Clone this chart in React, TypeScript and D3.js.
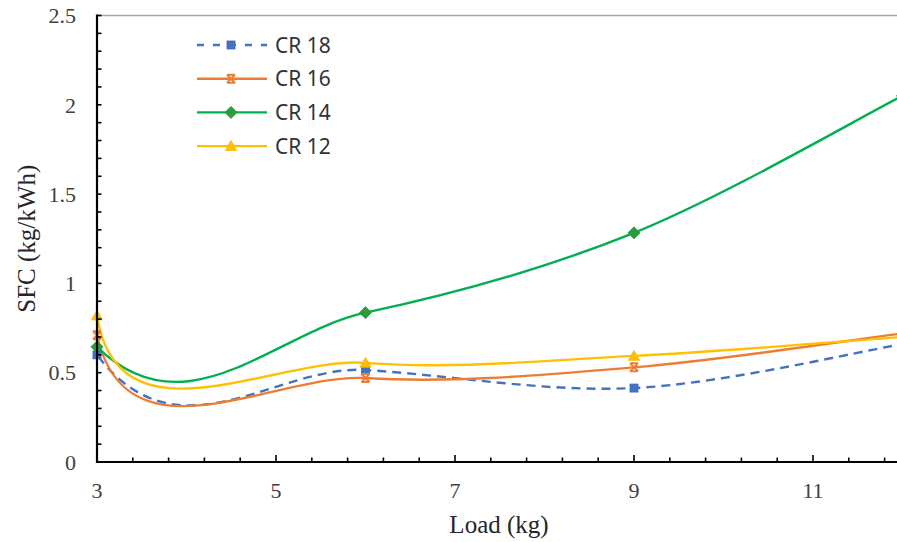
import React from "react";
import * as d3 from "d3";

// ---- data ----
// the first load (0 kg) lies left of the axis minimum and is clipped; it only shapes the smoothed curves
const loads = [0, 3, 6, 9, 12];
const cr18 = [4.5, 0.6, 0.515, 0.414, 0.66];
const cr16 = [14, 0.71, 0.47, 0.53, 0.72];
const cr14 = [3.8, 0.645, 0.836, 1.283, 2.05];
const cr12 = [20, 0.82, 0.555, 0.594, 0.7];
const seriesNames = ["CR 18", "CR 16", "CR 14", "CR 12"];
const xTickLabels = [3, 5, 7, 9, 11];
const yTickLabels = [0, 0.5, 1, 1.5, 2, 2.5];

const W = 897;
const H = 542;
const left = 97;
const top = 15.5;
const bottom = 462;
const right = 902.5;

const x = d3.scaleLinear().domain([3, 12]).range([left, right]);
const y = d3.scaleLinear().domain([0, 2.5]).range([bottom, top]);

type P = [number, number];

// Excel-like smoothed Bezier through points (pixel space)
function smoothPath(pts: P[]): string {
  const p = d3.path();
  if (!pts.length) return "";
  p.moveTo(pts[0][0], pts[0][1]);
  const dist = (a: P, b: P) => Math.hypot(b[0] - a[0], b[1] - a[1]);
  for (let i = 0; i < pts.length - 1; i++) {
    const p0 = pts[i - 1] ?? pts[i];
    const p1 = pts[i];
    const p2 = pts[i + 1];
    const p3 = pts[i + 2] ?? pts[i + 1];
    const d12 = dist(p1, p2);
    const d02 = dist(p0, p2);
    const d13 = dist(p1, p3);
    const f1 = d02 === 0 ? 0 : d02 / 6 < d12 / 2 ? 1 / 6 : d12 / (2 * d02);
    const f2 = d13 === 0 ? 0 : d13 / 6 < d12 / 2 ? 1 / 6 : d12 / (2 * d13);
    const c1: P = [p1[0] + f1 * (p2[0] - p0[0]), p1[1] + f1 * (p2[1] - p0[1])];
    const c2: P = [p2[0] - f2 * (p3[0] - p1[0]), p2[1] - f2 * (p3[1] - p1[1])];
    p.bezierCurveTo(c1[0], c1[1], c2[0], c2[1], p2[0], p2[1]);
  }
  return p.toString();
}

const colors = ["#4472C4", "#ED7D31", "#00B050", "#FFC000"];
const seriesValues = [cr18, cr16, cr14, cr12];

function Marker({ kind, cx, cy }: { kind: number; cx: number; cy: number }) {
  if (kind === 0) {
    return <rect x={cx - 4} y={cy - 4} width={8} height={8} fill="#4472C4" stroke="#3B65B5" strokeWidth={0.8} />;
  }
  if (kind === 1) {
    const s = 4;
    return (
      <path
        d={`M${cx - s},${cy - s}L${cx + s},${cy + s}M${cx + s},${cy - s}L${cx - s},${cy + s}M${cx - s},${cy - s}L${cx + s},${cy - s}M${cx - s},${cy + s}L${cx + s},${cy + s}`}
        stroke="#ED7D31"
        strokeWidth={2}
        fill="none"
      />
    );
  }
  if (kind === 2) {
    const s = 6;
    return (
      <path
        d={`M${cx},${cy - s}L${cx + s},${cy}L${cx},${cy + s}L${cx - s},${cy}Z`}
        fill="#2F9A3A"
        stroke="#1FA54A"
        strokeWidth={1}
      />
    );
  }
  const s = 5.5;
  return (
    <path
      d={`M${cx},${cy - s}L${cx + s},${cy + s * 0.8}L${cx - s},${cy + s * 0.8}Z`}
      fill="#FFC000"
      stroke="#F5B800"
      strokeWidth={0.8}
    />
  );
}

export default function App() {
  const minorX = d3.range(3, 12.001, 0.4).map((v) => +v.toFixed(2));
  const minorY = d3.range(0, 2.5001, 0.1).map((v) => +v.toFixed(2));
  const serif = "'Liberation Serif', 'Times New Roman', serif";
  const sans = "'Noto Sans', 'Open Sans', sans-serif";

  return (
    <svg
      width={W}
      height={H}
      viewBox={`0 0 ${W} ${H}`}
      style={{ position: "absolute", left: 0, top: 0, background: "#fff" }}
    >
      <defs>
        <clipPath id="plot">
          <rect x={left} y={top - 2} width={right - left} height={bottom - top + 2} />
        </clipPath>
      </defs>
      <rect x={0} y={0} width={W} height={H} fill="#fff" />

      {/* top border */}
      <line x1={left} x2={W} y1={y(2.5)} y2={y(2.5)} stroke="#A6A6A6" strokeWidth={1.6} />

      {/* series lines */}
      <g clipPath="url(#plot)">
        {seriesValues.map((vals, si) => {
          const pts: P[] = loads.map((l, i) => [x(l), y(vals[i])]);
          return (
            <path
              key={si}
              d={smoothPath(pts)}
              fill="none"
              stroke={colors[si]}
              strokeWidth={2.4}
              strokeDasharray={si === 0 ? "9 6" : undefined}
              strokeLinecap="butt"
            />
          );
        })}
      </g>

      {/* markers */}
      {seriesValues.map((vals, si) => (
        <g key={si}>
          {loads.map((l, i) =>
            l >= 3 ? <Marker key={i} kind={si} cx={x(l)} cy={y(vals[i])} /> : null
          )}
        </g>
      ))}

      {/* axes */}
      <line x1={left} x2={left} y1={top - 1} y2={bottom + 1} stroke="#000" strokeWidth={2.2} />
      <line x1={left - 1} x2={W} y1={bottom} y2={bottom} stroke="#000" strokeWidth={2.2} />
      {minorY.map((v) => (
        <line key={"yt" + v} x1={left} x2={left + 4.5} y1={y(v)} y2={y(v)} stroke="#000" strokeWidth={1.6} />
      ))}
      {minorX.map((v) => {
        const major = xTickLabels.includes(v);
        return (
          <line
            key={"xt" + v}
            x1={x(v)}
            x2={x(v)}
            y1={bottom}
            y2={bottom - (major ? 7 : 4.5)}
            stroke="#000"
            strokeWidth={1.6}
          />
        );
      })}

      {/* tick labels */}
      {yTickLabels.map((v) => (
        <text
          key={"yl" + v}
          x={76}
          y={y(v)}
          dy="0.35em"
          textAnchor="end"
          fontFamily={serif}
          fontSize={22}
          fill="#404040"
        >
          {d3.format("~g")(v)}
        </text>
      ))}
      {xTickLabels.map((v) => (
        <text
          key={"xl" + v}
          x={x(v)}
          y={498}
          textAnchor="middle"
          fontFamily={serif}
          fontSize={22}
          fill="#404040"
        >
          {v}
        </text>
      ))}

      {/* axis titles */}
      <text x={499} y={533} textAnchor="middle" fontFamily={serif} fontSize={25} fill="#262626">
        Load (kg)
      </text>
      <text
        transform={`translate(35, ${(top + bottom) / 2}) rotate(-90)`}
        textAnchor="middle"
        fontFamily={serif}
        fontSize={25}
        fill="#262626"
      >
        SFC (kg/kWh)
      </text>

      {/* legend */}
      {seriesNames.map((name, i) => {
        const cy = 45 + i * 33.7;
        return (
          <g key={name}>
            <line
              x1={197}
              x2={267}
              y1={cy}
              y2={cy}
              stroke={colors[i]}
              strokeWidth={2.4}
              strokeDasharray={i === 0 ? "7 9" : undefined}
            />
            <Marker kind={i} cx={231} cy={cy} />
            <text x={275} y={cy} dy="0.36em" fontFamily={sans} fontSize={21} fill="#333333">
              {name}
            </text>
          </g>
        );
      })}
    </svg>
  );
}
